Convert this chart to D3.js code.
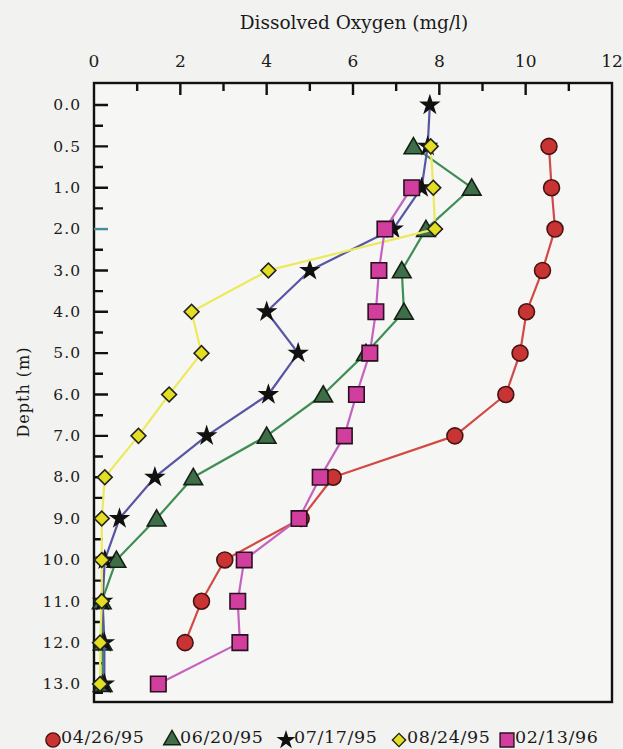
<!DOCTYPE html>
<html>
<head>
<meta charset="utf-8">
<script src="https://cdn.jsdelivr.net/npm/d3@7"></script>
<style>
  html, body { margin: 0; padding: 0; background: #f2f2f0; }
  svg { display: block; }
  text { font-family: "DejaVu Serif", "Liberation Serif", serif; fill: #1a1a1a; }
</style>
</head>
<body>
<svg id="chart" width="623" height="749"></svg>
<script>
// ---- data ----
const depths = ["0.0","0.5","1.0","2.0","3.0","4.0","5.0","6.0","7.0","8.0","9.0","10.0","11.0","12.0","13.0"];
const xTickLabels = [0, 2, 4, 6, 8, 10, 12];
const seriesNames = ["04/26/95","06/20/95","07/17/95","08/24/95","02/13/96"];
const do042695 = [null, 10.54, 10.6, 10.68, 10.39, 10.02, 9.87, 9.54, 8.36, 5.54, 4.8, 3.03, 2.49, 2.11, null];
const do062095 = [null, 7.4, 8.75, 7.69, 7.13, 7.18, 6.3, 5.31, 4.0, 2.3, 1.45, 0.52, 0.18, 0.2, 0.2];
const do071795 = [7.78, 7.73, 7.59, 6.93, 5.0, 4.0, 4.73, 4.04, 2.61, 1.41, 0.59, 0.25, 0.2, 0.24, 0.24];
const do082495 = [null, 7.8, 7.86, 7.9, 4.04, 2.26, 2.49, 1.74, 1.03, 0.25, 0.18, 0.18, 0.18, 0.14, 0.14];
const do021396 = [null, null, 7.36, 6.74, 6.6, 6.53, 6.39, 6.08, 5.8, 5.24, 4.75, 3.48, 3.33, 3.38, 1.49];

const seriesValues = [do042695, do062095, do071795, do082495, do021396];
const styles = [
  {line: "#d24a46", fill: "#c83434", stroke: "#4a1212", shape: d3.symbolCircle, size: 200, rot: 0},
  {line: "#3f8f55", fill: "#3e6e48", stroke: "#142014", shape: d3.symbolTriangle, size: 150, rot: 0},
  {line: "#5656a4", fill: "#111111", stroke: "#111111", shape: d3.symbolStar, size: 85, rot: 0},
  {line: "#ecea5c", fill: "#e4de22", stroke: "#222222", shape: d3.symbolSquare, size: 110, rot: 45},
  {line: "#c462c0", fill: "#d23e9e", stroke: "#2a1020", shape: d3.symbolSquare, size: 240, rot: 0}
];

const svg = d3.select("#chart");
const pLeft = 94, pRight = 612, pTop = 83, pBottom = 702;

const x = d3.scaleLinear().domain([0, 12]).range([pLeft, pRight]);
const y = d3.scalePoint().domain(depths).range([105, 684]);

// box
svg.append("rect").attr("x", pLeft).attr("y", pTop)
  .attr("width", pRight - pLeft).attr("height", pBottom - pTop)
  .attr("fill", "#f6f6f4").attr("stroke", "#111").attr("stroke-width", 2.4);

// tick marks as a single path (inward)
const tp = d3.path();
d3.range(1, 12).forEach(v => {
  tp.moveTo(x(v), pTop);
  tp.lineTo(x(v), pTop + (v % 2 === 0 ? 12 : 8));
});
depths.forEach((d, i) => {
  if (d === "2.0") return;
  tp.moveTo(pLeft, y(d));
  tp.lineTo(pLeft + 14, y(d));
});
const mids = depths.slice(0, -1).map((d, i) => (y(d) + y(depths[i + 1])) / 2);
mids.push(y(depths[depths.length - 1]) + y.step() / 2 - 12);
mids.forEach(m => { tp.moveTo(pLeft, m); tp.lineTo(pLeft + 9, m); });
svg.append("path").attr("d", tp.toString())
  .attr("fill", "none").attr("stroke", "#111").attr("stroke-width", 2.4);
svg.append("path")
  .attr("d", `M${pLeft},${y("2.0")}H${pLeft + 14}`)
  .attr("fill", "none").attr("stroke", "#4a8a9a").attr("stroke-width", 2.4);

// top axis labels
svg.append("g").selectAll("text").data(xTickLabels).join("text")
  .attr("x", d => x(d)).attr("y", pTop - 16)
  .attr("text-anchor", "middle").attr("font-size", 17)
  .text(d => d);

// left axis labels
svg.append("g").selectAll("text").data(depths).join("text")
  .attr("x", pLeft - 13).attr("y", d => y(d)).attr("dy", "0.34em")
  .attr("text-anchor", "end").attr("font-size", 15.5).attr("letter-spacing", 1)
  .attr("fill", d => d === "2.0" ? "#3a5478" : "#1a1a1a")
  .text(d => d);

// titles
svg.append("text").attr("x", 354).attr("y", 29).attr("text-anchor", "middle")
  .attr("font-size", 18.5)
  .text("Dissolved Oxygen (mg/l)");
svg.append("text").attr("transform", "translate(29,392) rotate(-90)")
  .attr("text-anchor", "middle").attr("font-size", 16).attr("letter-spacing", 1)
  .text("Depth (m)");

// series
seriesValues.forEach((vals, si) => {
  const st = styles[si];
  const pts = depths.map((d, i) => ({d, v: vals[i]})).filter(p => p.v !== null);
  const line = d3.line().x(p => x(p.v)).y(p => y(p.d));
  svg.append("path").datum(pts).attr("d", line)
    .attr("fill", "none").attr("stroke", st.line).attr("stroke-width", 2.2)
    .attr("stroke-linejoin", "round");
  const sym = d3.symbol().type(st.shape).size(st.size);
  svg.append("g").selectAll("path").data(pts).join("path")
    .attr("d", sym)
    .attr("transform", p => `translate(${x(p.v)},${y(p.d) + (st.shape === d3.symbolTriangle ? 2 : 0)}) rotate(${st.rot})`)
    .attr("fill", st.fill).attr("stroke", st.stroke).attr("stroke-width", 1.6);
});

// legend
const legendX = [53, 172, 286, 399, 507];
const lg = svg.append("g");
seriesNames.forEach((name, i) => {
  const st = styles[i];
  lg.append("path").attr("d", d3.symbol().type(st.shape).size(st.size * 0.8))
    .attr("transform", `translate(${legendX[i]},${740}) rotate(${st.rot})`)
    .attr("fill", st.fill).attr("stroke", st.stroke).attr("stroke-width", 1.4);
  lg.append("text").attr("x", legendX[i] + 8).attr("y", 743)
    .attr("font-size", 17.5).attr("letter-spacing", 0.6)
    .text(name);
});
</script>
</body>
</html>
